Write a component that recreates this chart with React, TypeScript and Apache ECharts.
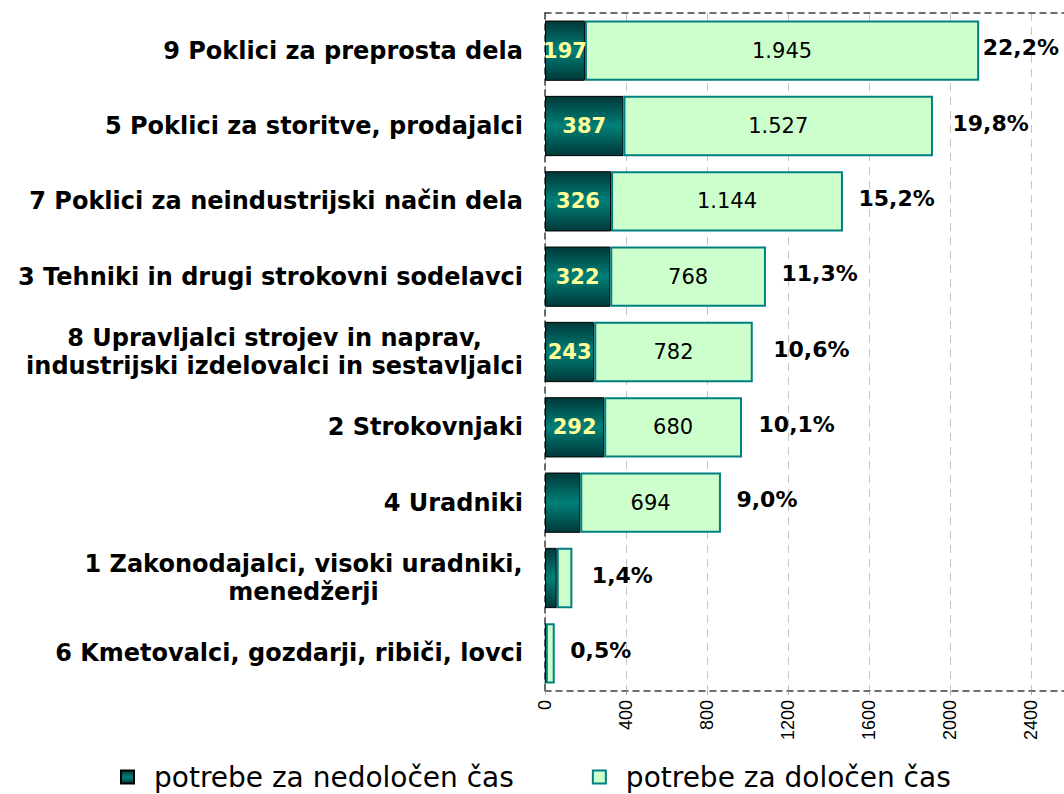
import React, { useEffect, useRef } from "react";
import * as echarts from "echarts";

const categories = [
  "9 Poklici za preprosta dela",
  "5 Poklici za storitve, prodajalci",
  "7 Poklici za neindustrijski način dela",
  "3 Tehniki in drugi strokovni sodelavci",
  "8 Upravljalci strojev in naprav,\nindustrijski izdelovalci in sestavljalci",
  "2 Strokovnjaki",
  "4 Uradniki",
  "1 Zakonodajalci, visoki uradniki,\nmenedžerji",
  "6 Kmetovalci, gozdarji, ribiči, lovci",
];
const indefiniteValues = [197, 387, 326, 322, 243, 292, 174, 58, 4];
const fixedTermValues = [1945, 1527, 1144, 768, 782, 680, 694, 77, 44];
const percentLabels = ["22,2%", "19,8%", "15,2%", "11,3%", "10,6%", "10,1%", "9,0%", "1,4%", "0,5%"];
const seriesNames = ["potrebe za nedoločen čas", "potrebe za določen čas"];
const axisMin = 0;
const axisMax = 2600;
const axisStep = 400;

const Y_FONT_SIZE = 24;
const LABEL_FONT = `bold ${Y_FONT_SIZE}px 'DejaVu Sans'`;
const percentGaps = [3, 19, 15, 15, 20, 16, 15, 19, 15];

function fmtThousands(n: number): string {
  return String(n).replace(/\B(?=(\d{3})+(?!\d))/g, ".");
}

export default function App() {
  const ref = useRef<HTMLDivElement>(null);
  useEffect(() => {
    document.body.style.margin = "0";
    if (!ref.current) return;
    const chart = echarts.init(ref.current, null, { renderer: "svg" });

    // measure multi-line labels so their lines can be centred within the block
    const cv = document.createElement("canvas");
    const ctx = cv.getContext("2d")!;
    ctx.font = LABEL_FONT;
    const rich: Record<string, any> = {};
    const labelMap: Record<string, string> = {};
    categories.forEach((c, i) => {
      if (c.includes("\n")) {
        const lines = c.split("\n");
        const w = Math.ceil(Math.max(...lines.map((l) => ctx.measureText(l).width)));
        const key = "m" + i;
        rich[key] = {
          width: w,
          align: "center",
          fontFamily: "DejaVu Sans",
          fontWeight: "bold",
          fontSize: Y_FONT_SIZE,
          color: "#000",
          lineHeight: 28,
        };
        labelMap[c] = lines.map((l) => `{${key}|${l}}`).join("\n");
      }
    });

    const totals = indefiniteValues.map((v, i) => v + fixedTermValues[i]);

    const darkGradient = new echarts.graphic.LinearGradient(0, 0, 0, 1, [
      { offset: 0, color: "#003838" },
      { offset: 0.5, color: "#008078" },
      { offset: 1, color: "#003838" },
    ]);

    const dashedAxis = { show: true, lineStyle: { color: "#404040", type: [6, 5], width: 1.5 } };

    chart.setOption({
      animation: false,
      grid: { left: 545, width: 527, top: 13, height: 678, outerBoundsMode: "none", containLabel: false },
      legend: {
        data: seriesNames,
        left: 115,
        top: 758,
        icon: "path://M0,0 H10 V10 H0 Z",
        itemWidth: 43,
        itemHeight: 13,
        itemGap: 78,
        textStyle: { fontFamily: "DejaVu Sans", fontSize: 28, color: "#000" },
      },
      xAxis: [
        {
          type: "value",
          min: axisMin,
          max: axisMax,
          interval: axisStep,
          position: "bottom",
          axisLine: dashedAxis,
          axisTick: { show: true, length: 4, lineStyle: { color: "#aaa" } },
          splitLine: { show: true, lineStyle: { color: "#c4c4c4", type: [8, 6], width: 1 } },
          axisLabel: {
            rotate: 90,
            margin: 9,
            fontFamily: "Liberation Sans",
            fontSize: 18,
            color: "#000",
            padding: [0, 0, 11, 0],
            formatter: (v: number) => (v % axisStep === 0 ? String(v) : ""),
          },
        },
        {
          type: "value",
          min: axisMin,
          max: axisMax,
          interval: axisStep,
          position: "top",
          axisLine: dashedAxis,
          axisTick: { show: false },
          splitLine: { show: false },
          axisLabel: { show: false },
        },
      ],
      yAxis: {
        type: "category",
        data: categories,
        inverse: true,
        axisLine: dashedAxis,
        axisTick: { show: false },
        axisLabel: {
          margin: 22,
          fontFamily: "DejaVu Sans",
          fontWeight: "bold",
          fontSize: Y_FONT_SIZE,
          color: "#000",
          lineHeight: 28,
          formatter: (v: string) => labelMap[v] || v,
          rich,
        },
      },
      series: [
        {
          name: seriesNames[0],
          type: "bar",
          stack: "total",
          barCategoryGap: "20%",
          data: indefiniteValues,
          itemStyle: { color: darkGradient, borderColor: "#000", borderWidth: 1 },
          label: {
            show: true,
            position: "inside",
            color: "#FFFF99",
            fontFamily: "DejaVu Sans",
            fontWeight: "bold",
            fontSize: 21,
            formatter: (p: any) => (p.value >= 190 ? String(p.value) : ""),
          },
        },
        {
          name: seriesNames[1],
          type: "bar",
          stack: "total",
          barCategoryGap: "20%",
          data: fixedTermValues,
          itemStyle: { color: "#CCFFCC", borderColor: "#008080", borderWidth: 2 },
          label: {
            show: true,
            position: "inside",
            color: "#000",
            fontFamily: "DejaVu Sans",
            fontSize: 21,
            formatter: (p: any) => (p.value >= 500 ? fmtThousands(p.value) : ""),
          },
        },
        {
          name: "percent",
          type: "scatter",
          symbol: "rect",
          symbolSize: 1,
          itemStyle: { color: "transparent", opacity: 1 },
          silent: true,
          data: totals.map((t, i) => ({
            value: [t, i],
            label: { distance: percentGaps[i] },
          })),
          label: {
            show: true,
            position: "right",
            offset: [0, -3],
            color: "#000",
            fontFamily: "DejaVu Sans",
            fontWeight: "bold",
            fontSize: 22,
            formatter: (p: any) => percentLabels[p.dataIndex],
          },
        },
      ],
    });
    return () => chart.dispose();
  }, []);
  return <div ref={ref} style={{ width: 1064, height: 794 }} />;
}
